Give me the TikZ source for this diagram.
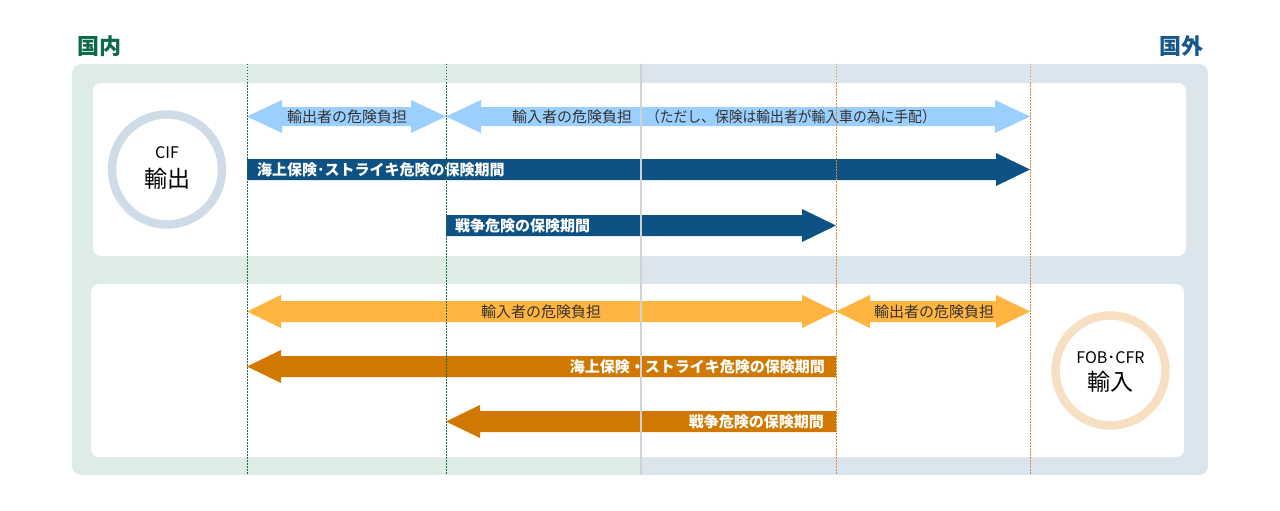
\documentclass[tikz,border=0pt]{standalone}
\usepackage{fontspec}
\setmainfont{Noto Sans CJK JP}
\definecolor{bggreen}{HTML}{DDEDE5}
\definecolor{bgblue}{HTML}{DBE5EE}
\definecolor{lblue}{HTML}{9BCFFD}
\definecolor{dblue}{HTML}{0E5285}
\definecolor{lorange}{HTML}{FFB540}
\definecolor{dorange}{HTML}{D07800}
\definecolor{ringblue}{HTML}{CFDBE7}
\definecolor{ringorange}{HTML}{F7DFC1}
\definecolor{tgreen}{HTML}{0C6A4A}
\definecolor{tblue}{HTML}{17588C}
\definecolor{dotgreen}{HTML}{1C6B4A}
\definecolor{dotorange}{HTML}{DB8A2C}
\definecolor{midgrey}{HTML}{D2D2D2}
\definecolor{labelgrey}{HTML}{333333}
\tikzset{
  panel/.style={fill=white, rounded corners=8pt},
  lbl/.style={inner sep=0pt, text=labelgrey, font=\fontsize{15}{18}\selectfont},
  wlbl/.style={inner sep=0pt, text=white, font=\fontsize{15}{18}\selectfont\bfseries},
  title/.style={inner sep=0pt, font=\fontsize{22}{26}\selectfont\bfseries},
  gdot/.style={dotgreen, line width=0.9pt, dash pattern=on 1.5pt off 1.5pt},
  odot/.style={dotorange, line width=0.9pt, dash pattern=on 1.5pt off 1.5pt},
  ringtext/.style={inner sep=0pt, text=black},
}
\begin{document}
\begin{tikzpicture}[x=1pt,y=-1pt]
\useasboundingbox (0,0) rectangle (1280,511);
% titles
\node[title, text=tgreen, anchor=west] (tin) at (77,46) {国内};
\node[title, text=tblue, anchor=east] (tout) at (1204,46) {国外};
% background halves
\begin{scope}
  \clip[rounded corners=9pt] (72,64) rectangle (1208,475);
  \fill[bggreen] (72,64) rectangle (641,475);
  \fill[bgblue] (641,64) rectangle (1208,475);
\end{scope}
% panels
\fill[panel] (93,83) rectangle (1186,256);
\fill[panel] (91,284) rectangle (1184,457);
% circles
\draw[ringblue, line width=8.4pt] (167,169.5) circle[radius=55pt];
\node[ringtext, font=\fontsize{16}{18}\selectfont] (cif) at (167,152.5) {CIF};
\node[ringtext, font=\fontsize{23}{26}\selectfont] (exp) at (167,178.5) {輸出};
\draw[ringorange, line width=8.4pt] (1110.5,370.5) circle[radius=55pt];
\node[ringtext, font=\fontsize{16}{18}\selectfont] (fob) at (1110.5,357.5) {FOB･CFR};
\node[ringtext, font=\fontsize{23}{26}\selectfont] (imp) at (1110.5,381.5) {輸入};
% upper arrows
\fill[lblue] (247,116.5) -- (282,100) -- (282,107) -- (411,107) -- (411,100) -- (446,116.5) -- (411,133) -- (411,126) -- (282,126) -- (282,133) -- cycle;
\fill[lblue] (446,116.5) -- (481,100) -- (481,107) -- (995,107) -- (995,100) -- (1030,116.5) -- (995,133) -- (995,126) -- (481,126) -- (481,133) -- cycle;
\fill[dblue] (247,159) -- (996,159) -- (996,153) -- (1030,169.5) -- (996,186) -- (996,180) -- (247,180) -- cycle;
\fill[dblue] (446,215) -- (802,215) -- (802,209) -- (836,225.5) -- (802,242) -- (802,236) -- (446,236) -- cycle;
% lower arrows
\fill[lorange] (247,311.5) -- (281,295) -- (281,301) -- (802,301) -- (802,295) -- (836,311.5) -- (802,328) -- (802,322) -- (281,322) -- (281,328) -- cycle;
\fill[lorange] (836,311.5) -- (870,295) -- (870,301) -- (996,301) -- (996,295) -- (1030,311.5) -- (996,328) -- (996,322) -- (870,322) -- (870,328) -- cycle;
\fill[dorange] (836,356) -- (281,356) -- (281,350) -- (247,366.5) -- (281,383) -- (281,377) -- (836,377) -- cycle;
\fill[dorange] (836,411) -- (480,411) -- (480,405) -- (446,421.5) -- (480,438) -- (480,432) -- (836,432) -- cycle;
% labels
\node[lbl] (u1) at (347,116.5) {輸出者の危険負担};
\node[lbl, anchor=west] (u2) at (512,116.5) {輸入者の危険負担\scalebox{0.92}[1]{　（ただし、保険は輸出者が輸入車の為に手配）}};
\node[wlbl, anchor=west] (u3) at (257,169.5) {海上保険･ストライキ危険の保険期間};
\node[wlbl, anchor=west] (u4) at (455,225.5) {戦争危険の保険期間};
\node[lbl] (l1) at (541,311.5) {輸入者の危険負担};
\node[lbl] (l2) at (934,311.5) {輸出者の危険負担};
\node[wlbl, anchor=east] (l3) at (825,366.5) {海上保険・ストライキ危険の保険期間};
\node[wlbl, anchor=east] (l4) at (824,421.5) {戦争危険の保険期間};
% vertical lines
\coordinate (g1t) at (247,64); \coordinate (g1b) at (247,475);
\coordinate (g2t) at (446,64); \coordinate (g2b) at (446,475);
\coordinate (o1t) at (836,64); \coordinate (o1b) at (836,475);
\coordinate (o2t) at (1030,64); \coordinate (o2b) at (1030,475);
\coordinate (mt) at (641,64); \coordinate (mb) at (641,475);
\draw[gdot] (g1t) -- (g1b);
\draw[gdot] (g2t) -- (g2b);
\draw[odot] (o1t) -- (o1b);
\draw[odot] (o2t) -- (o2b);
\draw[midgrey, line width=2pt] (mt) -- (mb);
\end{tikzpicture}
\end{document}
